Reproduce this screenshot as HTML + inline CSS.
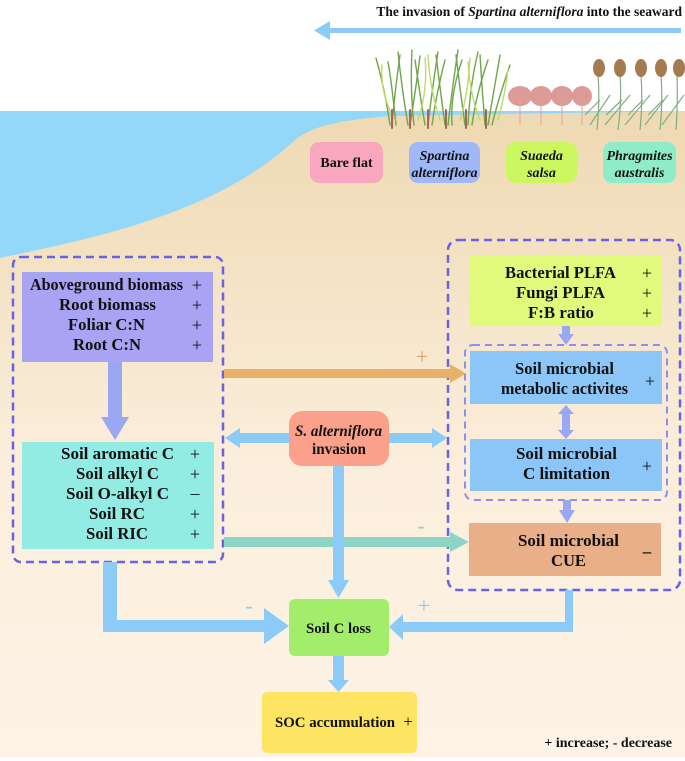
<!DOCTYPE html>
<html><head><meta charset="utf-8"><style>
html,body{margin:0;padding:0;background:#fff}
svg{display:block}
text{font-family:"Liberation Serif",serif;font-weight:bold;fill:#111}
.s{font-weight:normal;font-size:18px}
</style></head><body>
<svg width="685" height="761" viewBox="0 0 685 761" xmlns="http://www.w3.org/2000/svg">
<defs>
<linearGradient id="sand" x1="0" y1="0" x2="0" y2="1">
<stop offset="0" stop-color="#eed9b2"/>
<stop offset="0.55" stop-color="#fbeedc"/>
<stop offset="1" stop-color="#fef3e6"/>
</linearGradient>
</defs>
<rect x="0" y="0" width="685" height="761" fill="#fff"/>
<rect x="0" y="111" width="685" height="646" fill="#93d8f9"/>
<path d="M685 111 L390 116 C345 120 315 124 295 140 C220 210 110 235 0 258 L0 757 L685 757 Z" fill="url(#sand)"/>
<text x="682" y="16" font-size="13.5" text-anchor="end">The invasion of <tspan font-style="italic">Spartina alterniflora</tspan> into the seaward</text>
<path d="M681 28 L330 28 L330 21 L314 30.5 L330 40 L330 33 L681 33 Z" fill="#8ccaf8"/>
<g stroke-width="1.4" fill="none" stroke-linecap="round">
<g stroke="#6ea64a">
<path d="M390 125 Q385 90 376 58"/><path d="M392 125 Q395 90 400 55"/><path d="M396 125 Q392 85 388 62"/>
<path d="M408 125 Q402 90 398 52"/><path d="M410 125 Q416 88 420 56"/><path d="M414 125 Q410 90 412 50"/>
<path d="M425 125 Q420 95 415 60"/><path d="M428 125 Q432 90 438 52"/><path d="M432 125 Q436 95 445 60"/>
<path d="M445 125 Q440 88 436 55"/><path d="M448 125 Q452 90 458 50"/><path d="M452 125 Q450 95 462 60"/>
<path d="M465 125 Q460 90 456 55"/><path d="M468 125 Q470 85 478 52"/><path d="M472 125 Q476 95 488 60"/>
<path d="M485 125 Q482 90 480 55"/><path d="M488 125 Q494 90 500 55"/><path d="M492 125 Q498 100 510 65"/>
</g>
<g stroke="#c2d86a">
<path d="M395 120 Q380 95 382 65"/><path d="M418 120 Q428 90 425 58"/><path d="M440 120 Q430 90 428 55"/>
<path d="M460 120 Q468 95 470 58"/><path d="M480 120 Q470 95 468 62"/><path d="M498 120 Q505 95 508 70"/>
</g>
<g stroke="#a8645a" stroke-width="2">
<path d="M392 110 L392 128"/><path d="M410 110 L410 128"/><path d="M428 110 L428 128"/><path d="M446 110 L446 128"/><path d="M466 110 L466 128"/><path d="M486 110 L486 128"/>
</g>
</g>
<g fill="#d68a86" opacity="0.85">
<ellipse cx="520" cy="96" rx="12" ry="10"/><ellipse cx="541" cy="96" rx="11" ry="10"/><ellipse cx="562" cy="96" rx="11" ry="10"/><ellipse cx="582" cy="96" rx="10" ry="10"/>
</g>
<g stroke="#d8a89a" stroke-width="1" fill="none"><path d="M520 100 L520 125"/><path d="M541 100 L541 125"/><path d="M562 100 L562 125"/><path d="M582 100 L582 125"/></g>
<g stroke="#7fae86" stroke-width="1.2" fill="none">
<path d="M597 130 Q600 100 598 75"/><path d="M618 130 Q622 100 620 75"/><path d="M640 130 Q643 100 641 75"/><path d="M660 130 Q663 100 661 75"/><path d="M676 130 Q678 100 677 75"/>
<path d="M590 125 L610 95"/><path d="M605 125 L630 95"/><path d="M625 125 L650 95"/><path d="M645 125 L668 95"/><path d="M662 125 L684 95"/>
<path d="M600 100 L585 115"/><path d="M622 100 L606 115"/><path d="M643 100 L628 115"/><path d="M663 100 L648 115"/>
</g>
<g fill="#a57a4e"><ellipse cx="599" cy="68" rx="6" ry="9"/><ellipse cx="620" cy="68" rx="6" ry="9"/><ellipse cx="641" cy="68" rx="6" ry="9"/><ellipse cx="661" cy="68" rx="6" ry="9"/><ellipse cx="679" cy="68" rx="6" ry="9"/></g>
<rect x="310" y="142" width="73" height="41" rx="9" fill="#f9a6bf"/>
<text x="346.5" y="167" font-size="14" text-anchor="middle">Bare flat</text>
<rect x="409" y="142" width="71" height="41" rx="9" fill="#a0b8f8"/>
<text x="444.5" y="160" font-size="14" text-anchor="middle" font-style="italic">Spartina</text>
<text x="444.5" y="177" font-size="14" text-anchor="middle" font-style="italic">alterniflora</text>
<rect x="506" y="142" width="71" height="41" rx="9" fill="#ccf760"/>
<text x="541.5" y="160" font-size="14" text-anchor="middle" font-style="italic">Suaeda</text>
<text x="541.5" y="177" font-size="14" text-anchor="middle" font-style="italic">salsa</text>
<rect x="603" y="142" width="73" height="41" rx="9" fill="#8eecc8"/>
<text x="639.5" y="160" font-size="14" text-anchor="middle" font-style="italic">Phragmites</text>
<text x="639.5" y="177" font-size="14" text-anchor="middle" font-style="italic">australis</text>

<rect x="13" y="257" width="210" height="305" rx="8" fill="none" stroke="#6a62e4" stroke-width="2.5" stroke-dasharray="8,5"/>
<rect x="448" y="240" width="232" height="350" rx="10" fill="none" stroke="#6a62e4" stroke-width="2.5" stroke-dasharray="8,5"/>
<rect x="465" y="345" width="202" height="155" rx="8" fill="none" stroke="#8f8ef0" stroke-width="2" stroke-dasharray="7,5"/>

<path d="M108 362 L122 362 L122 417 L129 417 L115 440 L101 417 L108 417 Z" fill="#9aa8f4"/>
<path d="M224 369 L450 369 L450 364 L466 373.5 L450 383 L450 378 L224 378 Z" fill="#e8b068"/>
<path d="M224 537 L450 537 L450 532 L469 542 L450 552 L450 547 L224 547 Z" fill="#8ed4c6"/>
<path d="M289 433 L240 433 L240 428 L225 438 L240 448 L240 443 L289 443 Z" fill="#8ccaf8"/>
<path d="M389 433 L432 433 L432 428 L447 438 L432 448 L432 443 L389 443 Z" fill="#8ccaf8"/>
<path d="M333 466 L344 466 L344 580 L349 580 L338.5 598 L328 580 L333 580 Z" fill="#8ccaf8"/>
<path d="M103 562 L117 562 L117 620 L264 620 L264 608 L289 626 L264 644 L264 632 L103 632 Z" fill="#8ccaf8"/>
<path d="M565 590 L573 590 L573 632 L403 632 L403 640 L389 627 L403 614 L403 622 L565 622 Z" fill="#8ccaf8"/>
<path d="M333 656 L344 656 L344 680 L349 680 L338.5 692 L328 680 L333 680 Z" fill="#8ccaf8"/>
<path d="M562 326 L570 326 L570 334 L574 334 L566 345 L558 334 L562 334 Z" fill="#9aa8f4"/>
<path d="M566 405 L574 414 L570 414 L570 430 L574 430 L566 439 L558 430 L562 430 L562 414 L558 414 Z" fill="#9aa8f4"/>
<path d="M563 500 L571 500 L571 510 L575 510 L567 523 L559 510 L563 510 Z" fill="#9aa8f4"/>

<text x="422" y="364" font-size="22" text-anchor="middle" style="fill:#e0a060;font-weight:normal">+</text>
<text x="421" y="533" font-size="22" text-anchor="middle" style="fill:#8ed4c6;font-weight:normal">-</text>
<text x="249" y="613" font-size="22" text-anchor="middle" style="fill:#8ccaf8;font-weight:normal">-</text>
<text x="424" y="613" font-size="22" text-anchor="middle" style="fill:#8ccaf8;font-weight:normal">+</text>

<rect x="22" y="272" width="191" height="90" fill="#a9a3f3"/>
<g font-size="17">
<text x="30" y="290" textLength="153" lengthAdjust="spacingAndGlyphs">Aboveground biomass</text>
<text x="59" y="310" textLength="97" lengthAdjust="spacingAndGlyphs">Root biomass</text>
<text x="68" y="330" textLength="77" lengthAdjust="spacingAndGlyphs">Foliar C:N</text>
<text x="73" y="350" textLength="68" lengthAdjust="spacingAndGlyphs">Root C:N</text>
</g>
<g class="s"><text x="197" y="291" text-anchor="middle" class="s">+</text><text x="197" y="311" text-anchor="middle" class="s">+</text><text x="197" y="331" text-anchor="middle" class="s">+</text><text x="197" y="351" text-anchor="middle" class="s">+</text></g>
<rect x="22" y="442" width="192" height="107" fill="#92ece4"/>
<g font-size="17">
<text x="61" y="459" textLength="113" lengthAdjust="spacingAndGlyphs">Soil aromatic C</text>
<text x="76" y="479" textLength="83" lengthAdjust="spacingAndGlyphs">Soil alkyl C</text>
<text x="66" y="499" textLength="103" lengthAdjust="spacingAndGlyphs">Soil O-alkyl C</text>
<text x="89" y="519" textLength="56" lengthAdjust="spacingAndGlyphs">Soil RC</text>
<text x="86" y="539" textLength="62" lengthAdjust="spacingAndGlyphs">Soil RIC</text>
</g>
<text x="195" y="460" text-anchor="middle" class="s">+</text><text x="195" y="480" text-anchor="middle" class="s">+</text><text x="195" y="499" text-anchor="middle" class="s">–</text><text x="195" y="520" text-anchor="middle" class="s">+</text><text x="195" y="540" text-anchor="middle" class="s">+</text>
<rect x="289" y="411" width="100" height="55" rx="13" fill="#fba08a"/>
<text x="295" y="436" font-size="16" font-style="italic" textLength="87" lengthAdjust="spacingAndGlyphs">S. alterniflora</text>
<text x="312" y="454" font-size="16" textLength="54" lengthAdjust="spacingAndGlyphs">invasion</text>
<rect x="470" y="256" width="192" height="70" fill="#e2fa7c"/>
<g font-size="17">
<text x="505" y="278" textLength="111" lengthAdjust="spacingAndGlyphs">Bacterial PLFA</text>
<text x="516" y="298" textLength="89" lengthAdjust="spacingAndGlyphs">Fungi PLFA</text>
<text x="528" y="318" textLength="66" lengthAdjust="spacingAndGlyphs">F:B ratio</text>
</g>
<text x="647" y="279" text-anchor="middle" class="s">+</text><text x="647" y="299" text-anchor="middle" class="s">+</text><text x="647" y="319" text-anchor="middle" class="s">+</text>
<rect x="470" y="351" width="192" height="53" fill="#8cc6f8"/>
<text x="515" y="374" font-size="17" textLength="99" lengthAdjust="spacingAndGlyphs">Soil microbial</text>
<text x="501" y="394" font-size="17" textLength="127" lengthAdjust="spacingAndGlyphs">metabolic activites</text>
<text x="650" y="387" text-anchor="middle" class="s">+</text>
<rect x="470" y="439" width="192" height="52" fill="#8cc6f8"/>
<text x="516" y="459" font-size="17" textLength="101" lengthAdjust="spacingAndGlyphs">Soil microbial</text>
<text x="523" y="479" font-size="17" textLength="87" lengthAdjust="spacingAndGlyphs">C limitation</text>
<text x="647" y="472" text-anchor="middle" class="s">+</text>
<rect x="469" y="523" width="192" height="53" fill="#e9af88"/>
<text x="518" y="546" font-size="17" textLength="101" lengthAdjust="spacingAndGlyphs">Soil microbial</text>
<text x="551" y="566" font-size="17" textLength="35" lengthAdjust="spacingAndGlyphs">CUE</text>
<text x="647" y="557" font-size="17" text-anchor="middle">–</text>
<rect x="289" y="599" width="100" height="57" rx="6" fill="#a2ee6a"/>
<text x="306" y="633" font-size="15" textLength="65" lengthAdjust="spacingAndGlyphs">Soil C loss</text>
<rect x="262" y="692" width="155" height="61" rx="5" fill="#fde462"/>
<text x="275" y="727" font-size="15" textLength="120" lengthAdjust="spacingAndGlyphs">SOC accumulation</text>
<text x="408" y="727" font-size="17" text-anchor="middle" style="font-weight:normal">+</text>
<text x="672" y="747" font-size="14" text-anchor="end">+ increase; - decrease</text>
</svg>
</body></html>
